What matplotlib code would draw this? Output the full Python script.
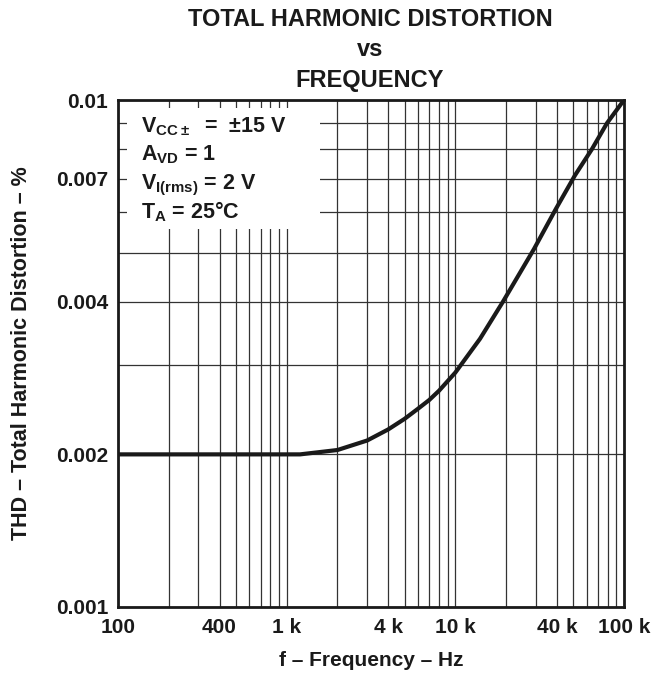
import matplotlib
matplotlib.use("Agg")
import matplotlib.pyplot as plt
from matplotlib.ticker import FixedLocator, NullFormatter, LogLocator
from matplotlib.patches import Rectangle

plt.rcParams['font.family'] = ['Liberation Sans', 'DejaVu Sans']
plt.rcParams['font.weight'] = 'bold'
plt.rcParams['mathtext.default'] = 'regular'

# data
freq_hz = [100, 1000, 1200, 2000, 3000, 4000, 5000, 6000, 7000, 8000,
           10000, 14000, 19150, 29240, 39480, 51170, 64540, 79250, 100000]
thd_pct = [0.002, 0.002, 0.002, 0.00204, 0.00213, 0.00224, 0.00235,
           0.00246, 0.00256, 0.00267, 0.00290, 0.00338, 0.004, 0.00508,
           0.0061, 0.0071, 0.0080, 0.0090, 0.01]

x_ticks = [100, 400, 1000, 4000, 10000, 40000, 100000]
x_tick_labels = ['100', '400', '1 k', '4 k', '10 k', '40 k', '100 k']
y_ticks = [0.001, 0.002, 0.004, 0.007, 0.01]
y_tick_labels = ['0.001', '0.002', '0.004', '0.007', '0.01']

conditions = [r'$V_{CC\pm}$  =  ±15 V', r'$A_{VD}$ = 1',
              r'$V_{I(rms)}$ = 2 V', r'$T_A$ = 25°C']

INK = '#1a1a1a'
fig = plt.figure(figsize=(6.54, 6.73), dpi=100)
ax = fig.add_axes([118/654, 1-607/673, 506/654, 507/673])

ax.set_xscale('log')
ax.set_yscale('log')
ax.set_xlim(100, 100000)
ax.set_ylim(0.001, 0.01)

ax.plot(freq_hz, thd_pct, color=INK, lw=3.0, solid_capstyle='butt',
        solid_joinstyle='round', zorder=5)

ax.xaxis.set_major_locator(FixedLocator(x_ticks))
ax.xaxis.set_minor_locator(LogLocator(base=10, subs=range(1, 10), numticks=50))
ax.yaxis.set_major_locator(FixedLocator(y_ticks))
ax.yaxis.set_minor_locator(LogLocator(base=10, subs=range(1, 10), numticks=50))
ax.set_xticklabels(x_tick_labels)
ax.set_yticklabels(y_tick_labels)
ax.xaxis.set_minor_formatter(NullFormatter())
ax.yaxis.set_minor_formatter(NullFormatter())
ax.tick_params(which='both', length=0, labelsize=15, colors=INK)
ax.tick_params(axis='x', pad=8)
ax.tick_params(axis='y', pad=7)
for lab in ax.get_xticklabels() + ax.get_yticklabels():
    lab.set_fontweight('bold')

ax.grid(True, which='both', color='#333333', lw=0.9)
ax.set_axisbelow(True)
for s in ax.spines.values():
    s.set_linewidth(2.0)
    s.set_color(INK)
    s.set_zorder(6)

ax.add_patch(Rectangle((0.018, 0.746), 0.382, 0.238, transform=ax.transAxes,
                       facecolor='white', edgecolor='none', zorder=3))
for i, t in enumerate(conditions):
    ax.text(0.046, 0.937 - i*0.057, t, transform=ax.transAxes, fontsize=15.5,
            fontweight='bold', va='baseline', ha='left', color=INK, zorder=4)

ax.set_xlabel('f – Frequency – Hz', fontsize=15, fontweight='bold', labelpad=10, color=INK)
ax.set_ylabel('THD – Total Harmonic Distortion – %', fontsize=15.5, fontweight='bold',
              labelpad=17, color=INK)

for txt, ypx in [('TOTAL HARMONIC DISTORTION', 19), ('vs', 50), ('FREQUENCY', 80)]:
    fig.text(370/654, 1-ypx/673, txt, ha='center', va='center',
             fontsize=17, fontweight='bold', color=INK)

fig.savefig('out.png', dpi=100, facecolor='white')
